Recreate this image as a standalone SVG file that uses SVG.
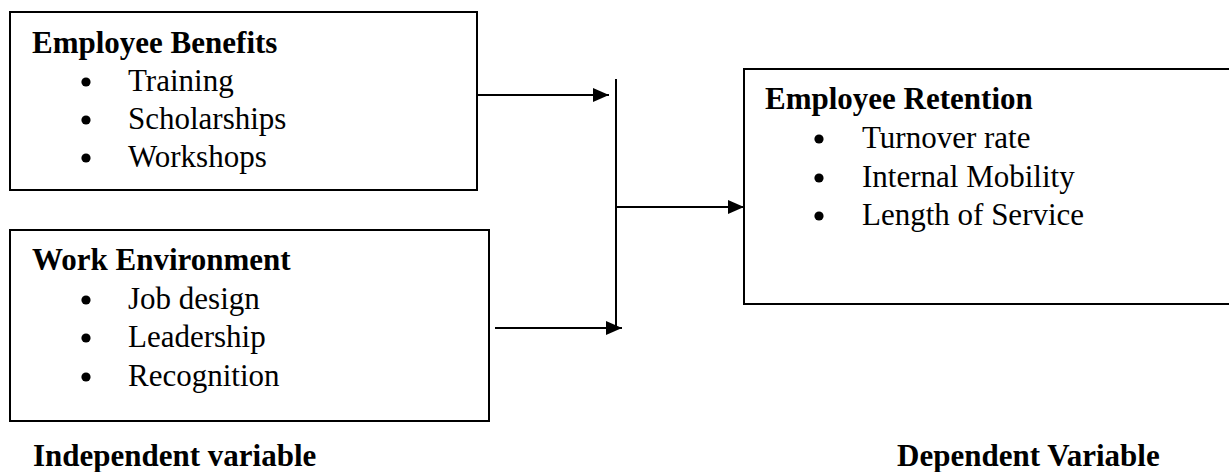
<svg xmlns="http://www.w3.org/2000/svg" width="1229" height="472" viewBox="0 0 1229 472">
  <style>
    .box { fill: #fff; stroke: #000; stroke-width: 2; }
    .head { font-family: "Liberation Serif", "Times New Roman", serif; font-weight: bold; font-size: 31px; fill: #000; }
    .item { font-family: "Liberation Serif", "Times New Roman", serif; font-size: 31px; fill: #000; }
    .dot { fill: #000; }
    .link { stroke: #000; stroke-width: 2; fill: none; }
  </style>
  <defs>
    <marker id="arrow" viewBox="0 0 16 14" refX="16" refY="7" markerWidth="16" markerHeight="14" markerUnits="userSpaceOnUse" orient="auto">
      <path d="M0,0 L16,7 L0,14 Z" fill="#000"/>
    </marker>
  </defs>
  <rect width="1229" height="472" fill="#fff"/>

  <g id="employee-benefits">
    <rect class="box" x="10" y="12" width="467" height="178"/>
    <text class="head" x="32" y="53">Employee Benefits</text>
    <circle class="dot" cx="86" cy="82" r="4.6"/>
    <text class="item" x="128" y="91">Training</text>
    <circle class="dot" cx="86" cy="120" r="4.6"/>
    <text class="item" x="128" y="129">Scholarships</text>
    <circle class="dot" cx="86" cy="158" r="4.6"/>
    <text class="item" x="128" y="167">Workshops</text>
  </g>

  <g id="work-environment">
    <rect class="box" x="10" y="230" width="479" height="191"/>
    <text class="head" x="32" y="270">Work Environment</text>
    <circle class="dot" cx="86" cy="300" r="4.6"/>
    <text class="item" x="128" y="309">Job design</text>
    <circle class="dot" cx="86" cy="338" r="4.6"/>
    <text class="item" x="128" y="347">Leadership</text>
    <circle class="dot" cx="86" cy="377" r="4.6"/>
    <text class="item" x="128" y="386">Recognition</text>
  </g>

  <g id="employee-retention">
    <rect class="box" x="744" y="69" width="500" height="235"/>
    <text class="head" x="765" y="109">Employee Retention</text>
    <circle class="dot" cx="819" cy="139" r="4.6"/>
    <text class="item" x="862" y="148">Turnover rate</text>
    <circle class="dot" cx="819" cy="178" r="4.6"/>
    <text class="item" x="862" y="187">Internal Mobility</text>
    <circle class="dot" cx="819" cy="216" r="4.6"/>
    <text class="item" x="862" y="225">Length of Service</text>
  </g>

  <g id="connectors">
    <line class="link" x1="478" y1="95" x2="609" y2="95" marker-end="url(#arrow)"/>
    <line class="link" x1="495" y1="328" x2="622" y2="328" marker-end="url(#arrow)"/>
    <line class="link" x1="616" y1="79" x2="616" y2="328"/>
    <line class="link" x1="616" y1="207" x2="744" y2="207" marker-end="url(#arrow)"/>
  </g>

  <g id="captions">
    <text class="head" x="33" y="466">Independent variable</text>
    <text class="head" x="897" y="466">Dependent Variable</text>
  </g>
</svg>
